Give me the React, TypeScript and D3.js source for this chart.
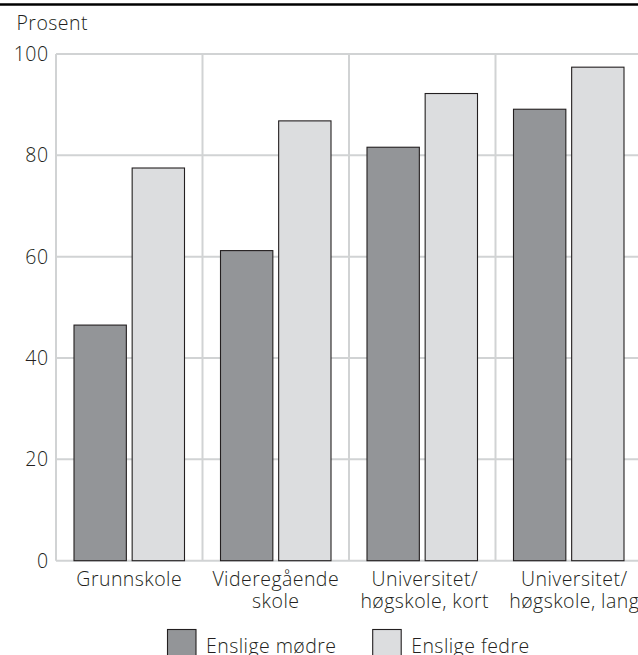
import React from "react";
import * as d3 from "d3";

const categories = [["Grunnskole"], ["Videregående", "skole"], ["Universitet/", "høgskole, kort"], ["Universitet/", "høgskole, lang"]];
const seriesNames = ["Enslige mødre", "Enslige fedre"];
const modre = [46.5, 61.2, 81.6, 89.1];
const fedre = [77.5, 86.8, 92.2, 97.4];
const yTicks = [0, 20, 40, 60, 80, 100];
const colors = ["#939598", "#dcdddf"];

const W = 638, H = 655;
const left = 56, right = 642, top = 54, bottom = 560.7;
const FONT = "'Open Sans', sans-serif";
const FS = 19.5;
const LS = 0.45;
const labelShift = [0, 0, 2.5, 5.5];

export default function App() {
  const keys = categories.map((c) => c.join(" "));
  const x = d3.scaleBand().domain(keys).range([left, right]).padding(0);
  const xs = d3.scaleBand().domain(seriesNames).range([18, x.bandwidth() - 18]).paddingInner(0.1);
  const y = d3.scaleLinear().domain([0, 100]).range([bottom, top]);
  const values = [modre, fedre];
  const grid = "#d1d3d4";
  return (
    <svg width={W} height={H} style={{ position: "absolute", left: 0, top: 0 }} fontFamily={FONT} fontWeight={300} letterSpacing={LS}>
      <rect x={0} y={0} width={W} height={H} fill="#fff" />
      <line x1={0} x2={W} y1={4.5} y2={4.5} stroke="#000" strokeWidth={2.5} />
      <text x={16.5} y={30} fontSize={FS} fill="#231f20">Prosent</text>
      {yTicks.map((t) => (
        <g key={t}>
          <line x1={left} x2={W} y1={y(t)} y2={y(t)} stroke={grid} strokeWidth={2} />
          <text x={48.5} y={y(t)} dy="0.36em" textAnchor="end" fontSize={FS} fill="#231f20">{t}</text>
        </g>
      ))}
      {keys.map((k) => (
        <line key={k} x1={x(k)!} x2={x(k)!} y1={top} y2={bottom} stroke={grid} strokeWidth={2} />
      ))}
      {keys.map((k, i) => (
        <g key={k}>
          {seriesNames.map((s, j) => (
            <rect key={s} x={x(k)! + xs(s)!} y={y(values[j][i])} width={xs.bandwidth()} height={bottom - y(values[j][i])}
              fill={colors[j]} stroke="#231f20" strokeWidth={1.1} />
          ))}
          {categories[i].map((line, li) => (
            <text key={li} x={x(k)! + x.bandwidth() / 2 + labelShift[i]} y={586 + li * 21.5} textAnchor="middle" fontSize={FS} fill="#231f20">{line}</text>
          ))}
        </g>
      ))}
      {seriesNames.map((s, j) => {
        const lx = [167.5, 372.7][j];
        return (
          <g key={s}>
            <rect x={lx} y={629.5} width={28.5} height={30} fill={colors[j]} stroke="#231f20" strokeWidth={1.1} />
            <text x={lx + 38.5} y={653} fontSize={FS} fill="#231f20">{s}</text>
          </g>
        );
      })}
    </svg>
  );
}
